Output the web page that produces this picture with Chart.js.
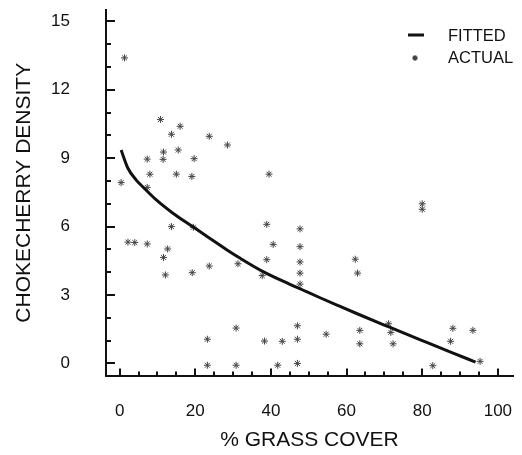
<!DOCTYPE html>
<html>
<head>
<meta charset="utf-8">
<script src="https://cdn.jsdelivr.net/npm/chart.js@4/dist/chart.umd.min.js"></script>
<style>
  html, body { margin: 0; padding: 0; background: #fff; }
  #wrap { width: 522px; height: 455px; }
</style>
</head>
<body>
<div id="wrap"><canvas id="c" width="522" height="455"></canvas></div>
<script>
// Observed chokecherry density vs. percent grass cover
const actualX = [1.3, 10.8, 16.0, 13.7, 23.7, 28.5, 11.6, 15.5, 7.3, 11.5, 19.7, 8.0, 15.0, 19.1, 39.5, 0.4, 7.3,
  13.7, 19.5, 38.9, 47.7, 2.2, 4.0, 7.3, 12.7, 40.6, 47.7, 11.6, 38.9, 47.7, 23.7, 31.3, 12.1, 19.2, 37.7, 47.7, 47.7,
  80.0, 80.0, 62.3, 62.9, 30.8, 23.2, 47.0, 38.3, 43.0, 47.0, 23.2, 30.8, 41.8, 47.0, 54.6, 63.5, 63.5, 71.1, 71.7,
  72.3, 88.1, 93.4, 87.5, 82.8, 95.3];
const actualY = [13.4, 10.7, 10.4, 10.05, 9.96, 9.58, 9.27, 9.36, 8.96, 8.95, 8.98, 8.3, 8.3, 8.2, 8.3, 7.93, 7.72,
  6.0, 5.97, 6.1, 5.9, 5.32, 5.3, 5.24, 5.02, 5.22, 5.12, 4.65, 4.55, 4.45, 4.27, 4.37, 3.88, 3.98, 3.85, 3.96, 3.48,
  7.0, 6.76, 4.57, 3.96, 1.55, 1.06, 1.65, 0.98, 0.97, 1.06, -0.08, -0.08, -0.08, 0.0, 1.28, 1.45, 0.86, 1.74, 1.36,
  0.86, 1.54, 1.45, 0.97, -0.1, 0.09];

// Fitted curve
const fittedX = [0.4, 2.2, 4.4, 6.1, 9.7, 14, 19.3, 24, 28.2, 32, 37.8, 44.9, 48.4, 53, 58, 62.5, 71.2, 80, 88, 94.1];
const fittedY = [9.36, 8.56, 8.04, 7.75, 7.17, 6.6, 6.0, 5.47, 5.0, 4.6, 4.04, 3.48, 3.22, 2.88, 2.52, 2.2, 1.6, 1.0, 0.46, 0.06];

// Axis ticks
const xLabelTicks = [0, 20, 40, 60, 80, 100];
const xMarkTicks = [0, 5, 10, 15, 20, 25, 30, 35, 40, 45, 50, 55, 60, 65, 70, 75, 80, 85, 90, 95, 100];
const yLabelTicks = [0, 3, 6, 9, 12, 15];
const yMarkTicks = [0, 1, 2, 3, 4, 5, 6, 7, 8, 9, 10, 11, 12, 13, 14, 15];

const legendNames = ['FITTED', 'ACTUAL'];

const FONT = '"Liberation Sans", Arial, Helvetica, sans-serif';
const INK = '#111';

// Inward-pointing tick marks along both axes
const tickMarks = {
  id: 'tickMarks',
  afterDraw(chart) {
    const { ctx, chartArea, scales: { x, y } } = chart;
    ctx.save();
    ctx.strokeStyle = INK;
    ctx.lineWidth = 2;
    ctx.beginPath();
    yMarkTicks.forEach(v => {
      const py = Math.round(y.getPixelForValue(v));
      const len = v % 3 === 0 ? 9 : 5;
      ctx.moveTo(chartArea.left, py);
      ctx.lineTo(chartArea.left + len, py);
    });
    xMarkTicks.forEach(v => {
      const px = Math.round(x.getPixelForValue(v));
      const len = v % 20 === 0 ? 7 : 4;
      ctx.moveTo(px, chartArea.bottom);
      ctx.lineTo(px, chartArea.bottom - len);
    });
    ctx.stroke();
    ctx.restore();
  }
};

// Legend in the upper-right corner of the plot
const cornerLegend = {
  id: 'cornerLegend',
  afterDraw(chart) {
    const { ctx, chartArea } = chart;
    const lineDs = chart.data.datasets[0];
    const ptDs = chart.data.datasets[1];
    const sx = chartArea.right - 98;
    const tx = chartArea.right - 65;
    const y1 = chartArea.top + 25;
    const y2 = chartArea.top + 48;
    ctx.save();
    ctx.strokeStyle = lineDs.borderColor;
    ctx.lineWidth = lineDs.borderWidth;
    ctx.beginPath();
    ctx.moveTo(sx - 7, y1);
    ctx.lineTo(sx + 9, y1);
    ctx.stroke();
    ctx.strokeStyle = ptDs.borderColor;
    Chart.helpers.drawPoint(ctx, {
      pointStyle: ptDs.pointStyle,
      radius: 2.5,
      borderWidth: ptDs.borderWidth,
      rotation: 0
    }, sx, y2);
    ctx.fillStyle = INK;
    ctx.font = '16.5px ' + FONT;
    ctx.textAlign = 'left';
    ctx.textBaseline = 'middle';
    ctx.fillText(legendNames[0], tx, y1 + 1);
    ctx.fillText(legendNames[1], tx, y2);
    ctx.restore();
  }
};

new Chart(document.getElementById('c'), {
  type: 'scatter',
  data: {
    datasets: [
      {
        label: legendNames[0],
        data: fittedX.map((v, i) => ({ x: v, y: fittedY[i] })),
        showLine: true,
        borderColor: INK,
        borderWidth: 3,
        pointRadius: 0,
        cubicInterpolationMode: 'monotone',
        fill: false
      },
      {
        label: legendNames[1],
        data: actualX.map((v, i) => ({ x: v, y: actualY[i] })),
        pointStyle: 'star',
        pointRadius: 3.5,
        borderWidth: 1,
        borderColor: '#444',
        backgroundColor: '#444'
      }
    ]
  },
  options: {
    responsive: false,
    animation: false,
    layout: { padding: { left: 0, right: 9, top: 10, bottom: 0 } },
    plugins: { legend: { display: false }, tooltip: { enabled: false } },
    scales: {
      x: {
        type: 'linear',
        min: -3.6,
        max: 104,
        afterBuildTicks: s => { s.ticks = xLabelTicks.map(v => ({ value: v })); },
        afterFit: s => { s.height = 79.5; s.paddingLeft = 0; s.paddingRight = 0; },
        grid: { display: true, drawOnChartArea: false, drawTicks: false },
        border: { display: true, color: INK, width: 2 },
        ticks: { color: INK, font: { family: FONT, size: 17 }, padding: 26, maxRotation: 0 },
        title: { display: true, text: '% GRASS COVER', color: INK, font: { family: FONT, size: 21 }, padding: { top: 2, bottom: 2 } }
      },
      y: {
        type: 'linear',
        min: -0.53,
        max: 15.5,
        afterBuildTicks: s => { s.ticks = yLabelTicks.map(v => ({ value: v })); },
        afterFit: s => { s.width = 106; s.paddingTop = 0; s.paddingBottom = 0; },
        grid: { display: true, drawOnChartArea: false, drawTicks: false },
        border: { display: true, color: INK, width: 2 },
        ticks: { color: INK, font: { family: FONT, size: 17 }, padding: 36 },
        title: { display: true, text: 'CHOKECHERRY DENSITY', color: INK, font: { family: FONT, size: 21 }, padding: { top: 12, bottom: 2 } }
      }
    }
  },
  plugins: [tickMarks, cornerLegend]
});
</script>
</body>
</html>
